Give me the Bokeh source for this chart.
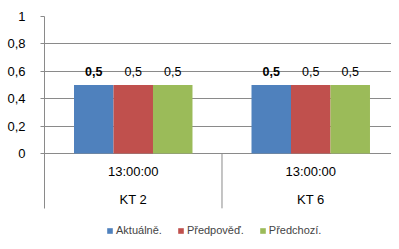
from bokeh.plotting import figure
from bokeh.models import (Range1d, FixedTicker, LabelSet,
                          ColumnDataSource, Legend, LegendItem)
from bokeh.transform import dodge
from bokeh.core.properties import value
from bokeh.embed import file_html
from bokeh.resources import INLINE

# ---- data ----
categories = ["KT 2", "KT 6"]
times = ["13:00:00", "13:00:00"]
series_names = ["Aktuálně.", "Předpověď.", "Předchozí."]
aktualne = [0.5, 0.5]
predpoved = [0.5, 0.5]
predchozi = [0.5, 0.5]
y_ticks = [0, 0.2, 0.4, 0.6, 0.8, 1]

# ---- styles ----
colors = ["#4F81BD", "#C0504D", "#9BBB59"]
FONT = "Liberation Sans"
GRID = "#8a8a8a"
BAR_W = 0.2225


def fmt(v):
    return f"{v:g}".replace(".", ",")


# category slots on a linear scale: one unit per category
xs = [i + 0.5 for i in range(len(categories))]

src = ColumnDataSource(dict(
    x=xs, cat=categories, time=times,
    s0=aktualne, s1=predpoved, s2=predchozi,
    l0=[fmt(v) for v in aktualne],
    l1=[fmt(v) for v in predpoved],
    l2=[fmt(v) for v in predchozi],
))

p = figure(x_range=Range1d(0, 1.955),
           y_range=Range1d(-0.642, 1.0),
           width=391, height=241, output_backend="svg", toolbar_location=None,
           x_axis_location=None,
           min_border_left=44, min_border_right=0, min_border_top=16,
           min_border_bottom=0)
p.outline_line_color = None
p.background_fill_color = "white"
p.border_fill_color = "white"

for g in p.xgrid:
    g.grid_line_color = None
p.ygrid.ticker = FixedTicker(ticks=y_ticks)
p.ygrid.grid_line_color = GRID
p.ygrid.grid_line_width = 1

ax = p.yaxis[0]
ax.ticker = FixedTicker(ticks=y_ticks)
ax.bounds = (-0.4, 1)
ax.major_label_overrides = {t: fmt(t) for t in y_ticks}
ax.axis_line_color = GRID
ax.major_tick_line_color = GRID
ax.major_tick_out = 4
ax.major_tick_in = 0
ax.minor_tick_line_color = None
ax.major_label_text_font = FONT
ax.major_label_text_font_size = "13px"
ax.major_label_text_color = "black"
ax.major_label_standoff = 15

renderers = []
offsets = [-BAR_W, 0, BAR_W]
for i in range(3):
    r = p.vbar(x=dodge("x", offsets[i]), top=f"s{i}",
               bottom=0, width=BAR_W, source=src, fill_color=colors[i],
               line_color=None)
    renderers.append(r)
    lbl = LabelSet(x=dodge("x", offsets[i]), y=f"s{i}",
                   text=f"l{i}", source=src, y_offset=14,
                   text_align="center", text_baseline="middle",
                   text_font=value(FONT), text_font_size="12.5px",
                   text_font_style="bold" if i == 0 else "normal",
                   text_color="black")
    p.add_layout(lbl)

# category separators
p.segment(x0=dodge("x", 0.5), y0=0, x1=dodge("x", 0.5), y1=-0.4,
          source=src, line_color=GRID, line_width=1)

# category labels
p.text(x="x", y=-0.131, text="time", source=src, text_align="center",
       text_baseline="middle", text_font=value(FONT),
       text_font_size="13px", text_color="black")
p.text(x="x", y=-0.336, text="cat", source=src, text_align="center",
       text_baseline="middle", text_font=value(FONT),
       text_font_size="13px", text_color="black")

legend = Legend(items=[LegendItem(label=series_names[i], renderers=[renderers[i]])
                       for i in range(3)],
                orientation="horizontal", location=(62, 5),
                glyph_width=7, glyph_height=7, label_standoff=3, spacing=15,
                padding=0, margin=0, border_line_color=None,
                background_fill_alpha=0, label_text_font=FONT,
                label_text_font_size="11px", label_height=9)
p.add_layout(legend)

open("out.html", "w").write(file_html(p, INLINE))
